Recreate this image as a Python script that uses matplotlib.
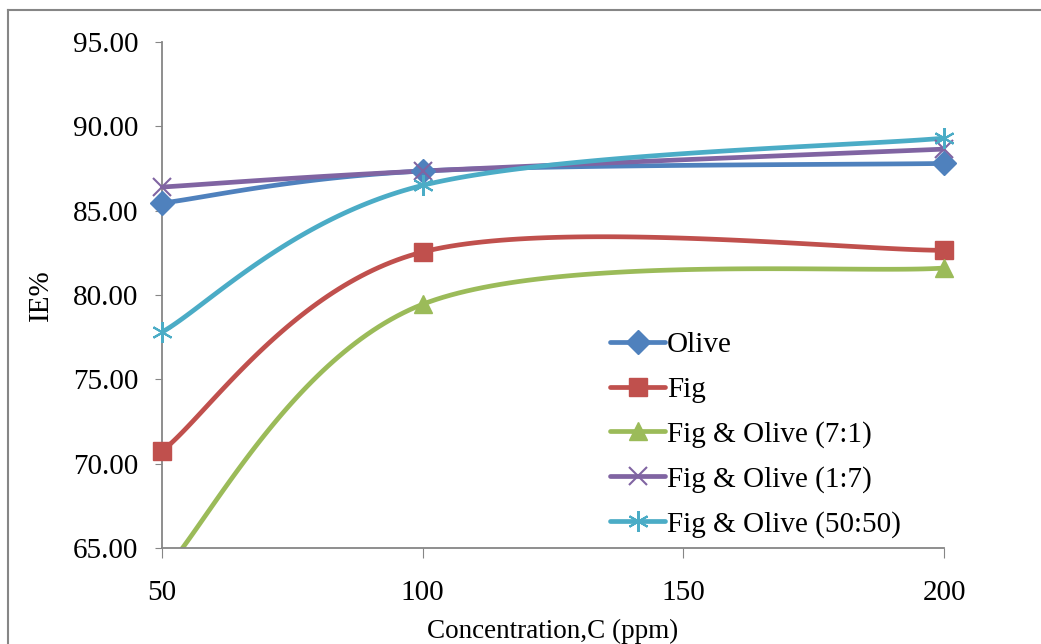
import numpy as np
import matplotlib
matplotlib.use('Agg')
import matplotlib.pyplot as plt
from matplotlib.lines import Line2D

plt.rcParams['font.family'] = ['Liberation Serif', 'DejaVu Serif']

# 数据
conc = [50, 100, 200]
olive = [85.45, 87.35, 87.8]
fig_ = [70.75, 82.55, 82.65]
fo_71 = [63.5, 79.45, 81.6]
fo_17 = [86.4, 87.35, 88.65]
fo_5050 = [77.8, 86.5, 89.3]

labels = ['Olive', 'Fig', 'Fig & Olive (7:1)', 'Fig & Olive (1:7)', 'Fig & Olive (50:50)']
colors = ['#4F81BD', '#C0504D', '#9BBB59', '#8064A2', '#4BACC6']
markers = ['D', 's', '^', 'x', (6, 2, 0)]
msizes = [12, 13, 13, 13, 15]
y_ticks = [65, 70, 75, 80, 85, 90, 95]
x_ticks = [50, 100, 150, 200]
y_min, y_max = 65, 95


def smooth(x, y, n=60):
    # Excel风格平滑线 (Catmull-Rom -> Bezier)
    p = np.column_stack([x, y]).astype(float)
    pts = np.vstack([p[0], p, p[-1]])
    out = [p[0]]
    t = np.linspace(0, 1, n + 1)[1:][:, None]
    for i in range(1, len(pts) - 2):
        p0, p1, p2, p3 = pts[i - 1], pts[i], pts[i + 1], pts[i + 2]
        b1 = p1 + (p2 - p0) / 6
        b2 = p2 - (p3 - p1) / 6
        seg = (1 - t) ** 3 * p1 + 3 * (1 - t) ** 2 * t * b1 + 3 * (1 - t) * t ** 2 * b2 + t ** 3 * p2
        out.extend(seg)
    out = np.array(out)
    return out[:, 0], out[:, 1]


fig = plt.figure(figsize=(10.41, 6.44), dpi=100)
ax = fig.add_axes([162 / 1041, 1 - 548 / 644, (944 - 162) / 1041, (548 - 42) / 644])

series = [olive, fig_, fo_71, fo_17, fo_5050]
handles = []
for vals, lab, c, m, ms in zip(series, labels, colors, markers, msizes):
    sx, sy = smooth(conc, vals)
    mew = 1.5 if m in ('x', (6, 2, 0)) else 1
    ax.plot(sx, sy, color=c, lw=3.4, solid_capstyle='round')
    # 坐标轴范围内的点才画标记
    px = [x for x, v in zip(conc, vals) if y_min <= v <= y_max]
    py = [v for v in vals if y_min <= v <= y_max]
    ax.plot(px, py, ls='none', marker=m, ms=ms, mec=c, mfc=c, mew=mew, clip_on=False, zorder=3)
    handles.append(Line2D([], [], color=c, lw=3.4, marker=m, ms=ms, mec=c, mfc=c, mew=mew,
                          solid_capstyle='round', label=lab))

ax.set_xlim(50, 200)
ax.set_ylim(y_min, y_max)
ax.set_xticks(x_ticks)
ax.set_yticks(y_ticks)
ax.set_yticklabels([f'{v:.2f}' for v in y_ticks])
ax.tick_params(axis='both', labelsize=21, color='#868686', direction='out')
ax.tick_params(axis='x', length=7, pad=16)
ax.tick_params(axis='y', length=5, pad=12)
for s in ['top', 'right']:
    ax.spines[s].set_visible(False)
for s in ['left', 'bottom']:
    ax.spines[s].set_color('#868686')
    ax.spines[s].set_linewidth(1.3)

ax.set_xlabel('Concentration,C (ppm)', fontsize=19.5, labelpad=9)
ax.set_ylabel('IE%', fontsize=21, labelpad=14)

leg = ax.legend(handles=handles, loc='upper left', bbox_to_anchor=(610 / 1041, 1 - 332 / 644),
                bbox_transform=fig.transFigure, frameon=False, fontsize=21,
                numpoints=1, handlelength=1.9, handletextpad=0.05,
                labelspacing=0.62, borderpad=0, borderaxespad=0)

# 外框
fig.add_artist(Line2D([8 / 1041, 8 / 1041], [0, 1 - 10 / 644], transform=fig.transFigure,
                      color='#868686', lw=1.5))
fig.add_artist(Line2D([8 / 1041, 1], [1 - 10 / 644, 1 - 10 / 644], transform=fig.transFigure,
                      color='#868686', lw=1.5))

fig.savefig('out.png', dpi=100, facecolor='white')
